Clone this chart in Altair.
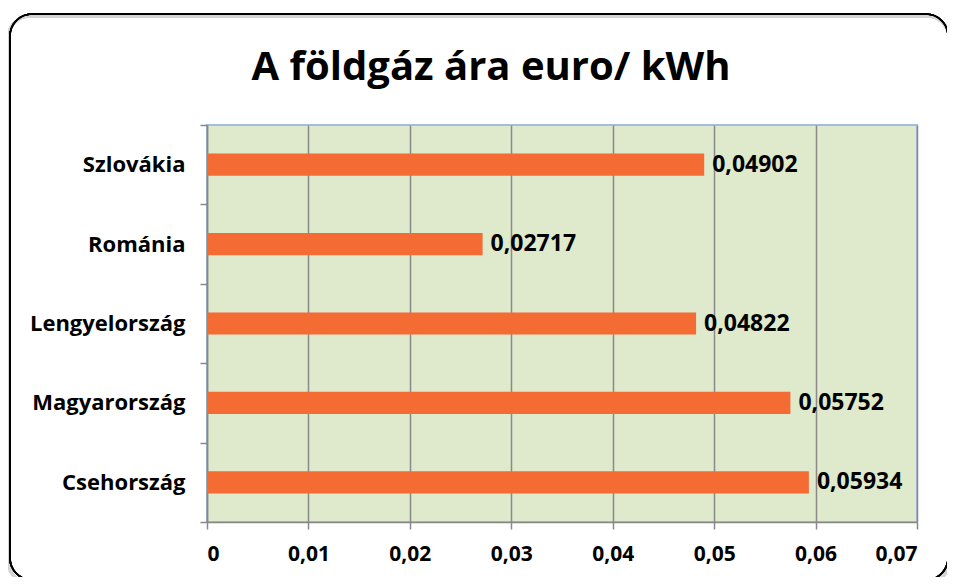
import altair as alt
import pandas as pd

countries = ["Csehország", "Magyarország", "Lengyelország", "Románia", "Szlovákia"]
prices = [0.05934, 0.05752, 0.04822, 0.02717, 0.04902]
order_top_to_bottom = ["Szlovákia", "Románia", "Lengyelország", "Magyarország", "Csehország"]
x_ticks = [0, 0.01, 0.02, 0.03, 0.04, 0.05, 0.06, 0.07]
title_text = "A földgáz ára euro/ kWh"

df = pd.DataFrame({"country": countries, "price": prices})

FONT = "Open Sans"
W, H = 710, 397
PADL, PADT = 199, 117

y_enc = alt.Y(
    "country:N",
    sort=order_top_to_bottom,
    scale=alt.Scale(paddingInner=0, paddingOuter=0),
    axis=alt.Axis(
        title=None, labelFont=FONT, labelFontWeight="bold", labelFontSize=22,
        labelColor="#000000", labelPadding=15, tickSize=7, tickColor="#888888",
        tickWidth=1.5, domainColor="#888888", domainWidth=1.5, tickBand="extent",
        grid=False,
    ),
)
x_enc = alt.X(
    "price:Q",
    scale=alt.Scale(domain=[0, 0.07], nice=False),
    axis=alt.Axis(
        title=None, values=x_ticks, labelFont=FONT, labelFontWeight="bold",
        labelFontSize=21, labelColor="#000000", labelPadding=14, tickSize=7,
        tickColor="#888888", tickWidth=1.5, domainColor="#888888", domainWidth=1.5,
        grid=True, gridColor="#8a8a8a", gridWidth=1.5,
        labelExpr="datum.value == 0 ? '0' : replace(format(datum.value, '.2f'), '.', ',')",
    ),
)

base = alt.Chart(df)

shadow = base.mark_rect(
    fillOpacity=0, stroke="#d4d4d4", strokeWidth=3, cornerRadius=22, clip=False
).encode(
    x=alt.value(-199), x2=alt.value(742), y=alt.value(-109), y2=alt.value(458)
)
frame = base.mark_rect(
    fillOpacity=0, stroke="#000000", strokeWidth=1.6, cornerRadius=22, clip=False
).encode(
    x=alt.value(-197), x2=alt.value(741), y=alt.value(-111), y2=alt.value(455)
)

bars = base.mark_bar(color="#F46B34", height=alt.RelativeBandSize(0.28)).encode(
    x=x_enc, y=y_enc
)

labels = base.mark_text(
    align="left", baseline="middle", dx=8, font=FONT, fontWeight="bold",
    fontSize=23, color="#000000",
).transform_calculate(
    lbl="replace(format(datum.price, '.5f'), '.', ',')"
).encode(x="price:Q", y=alt.Y("country:N", sort=order_top_to_bottom), text="lbl:N")

title = alt.Chart(pd.DataFrame({"t": [title_text]})).mark_text(
    align="center", baseline="alphabetic", font=FONT, fontWeight="bold",
    fontSize=40, color="#000000", clip=False,
).encode(x=alt.value(284), y=alt.value(-45), text="t:N")

chart = alt.layer(shadow, frame, bars, labels, title).properties(
    width=W, height=H,
    autosize=alt.AutoSizeParams(type="none"),
    padding={"left": PADL, "top": PADT, "right": 30, "bottom": 55},
).configure(background="#FFFFFF").configure_view(
    fill="#DFE9CB", stroke="#A4BCE2", strokeWidth=2
)

chart.save("out.html", embed_options={"renderer": "svg", "actions": False})
